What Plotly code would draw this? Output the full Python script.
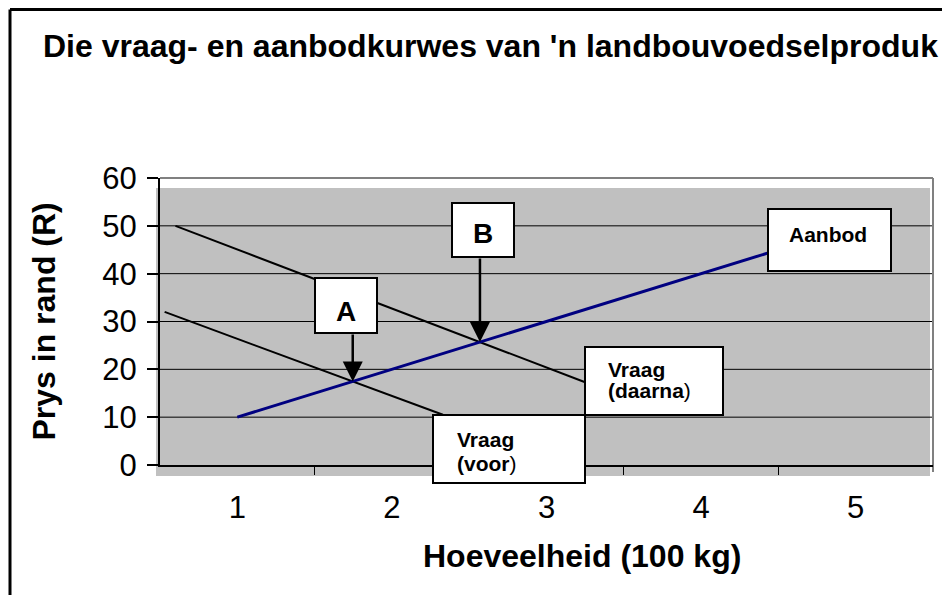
import plotly.graph_objects as go
import numpy as np

# ---------------- data ----------------
X_CATS = [1, 2, 3, 4, 5]
Y_TICKS = [0, 10, 20, 30, 40, 50, 60]

AANBOD_X = [1, 2, 3, 4, 5]
AANBOD_Y = [10, 20, 30, 40, 50]

VRAAG_VOOR_X = [0.53, 2.33]
VRAAG_VOOR_Y = [32, 10.5]

VRAAG_DAARNA_X = [0.6, 3.25]
VRAAG_DAARNA_Y = [50, 17.3]

TITLE = "Die vraag- en aanbodkurwes van 'n landbouvoedselproduk"
X_TITLE = "Hoeveelheid (100 kg)"
Y_TITLE = "Prys in rand (R)"

# ---------------- geometry ----------------
W, H = 942, 595
L, R_PX, T, B_PX = 160, 933, 178, 465
PW, PH = R_PX - L, B_PX - T
FONT = "Arial, Liberation Sans, sans-serif"


def px(x):
    return (x - L) / PW


def py(y):
    return (B_PX - y) / PH


def intersect(x1, y1, x2, y2):
    a1, b1 = np.polyfit(x1, y1, 1)
    a2, b2 = np.polyfit(x2, y2, 1)
    xi = (b2 - b1) / (a1 - a2)
    return xi, a1 * xi + b1


fig = go.Figure()
fig.add_trace(go.Scatter(x=VRAAG_DAARNA_X, y=VRAAG_DAARNA_Y, mode="lines",
                         line=dict(color="black", width=2), showlegend=False))
fig.add_trace(go.Scatter(x=VRAAG_VOOR_X, y=VRAAG_VOOR_Y, mode="lines",
                         line=dict(color="black", width=2), showlegend=False))
fig.add_trace(go.Scatter(x=AANBOD_X, y=AANBOD_Y, mode="lines",
                         line=dict(color="#000080", width=3), showlegend=False))

shapes = []
# grey plot fill (slightly offset like the original)
shapes.append(dict(type="rect", xref="paper", yref="paper", x0=px(156), x1=px(930),
                   y0=py(476), y1=py(188), fillcolor="#C0C0C0", line=dict(width=0),
                   layer="below"))
# gridlines
for v in Y_TICKS[1:-1]:
    shapes.append(dict(type="line", xref="paper", yref="y", x0=0, x1=1, y0=v, y1=v,
                       line=dict(color="black", width=1), layer="below"))
# grey frame top & right
shapes.append(dict(type="line", xref="paper", yref="paper", x0=0, x1=1, y0=1, y1=1,
                   line=dict(color="#808080", width=2), layer="below"))
shapes.append(dict(type="line", xref="paper", yref="paper", x0=1, x1=1, y0=py(472), y1=1,
                   line=dict(color="#808080", width=2), layer="below"))
# outer chart border (left + top)
shapes.append(dict(type="line", xref="paper", yref="paper", x0=px(10), x1=px(10),
                   y0=py(600), y1=py(9.5), line=dict(color="black", width=3)))
shapes.append(dict(type="line", xref="paper", yref="paper", x0=px(10), x1=px(945),
                   y0=py(9.5), y1=py(9.5), line=dict(color="black", width=3)))

# label boxes (pixel boxes)
BOXES = {
    "A": (315, 278, 377, 333),
    "B": (452, 203, 514, 257),
    "Aanbod": (768, 209, 891, 271),
    "Daarna": (585, 347, 723, 415),
    "Voor": (433, 415, 585, 483),
}
for k, (x0, y0, x1, y1) in BOXES.items():
    shapes.append(dict(type="rect", xref="paper", yref="paper", x0=px(x0), x1=px(x1),
                       y0=py(y1), y1=py(y0), fillcolor="white",
                       line=dict(color="black", width=2), layer="above"))

ann = []
ann.append(dict(text="<b>" + TITLE + "</b>", xref="paper", yref="paper", x=px(41), y=py(46),
                xanchor="left", yanchor="middle", showarrow=False,
                font=dict(family=FONT, size=32, color="black")))
ann.append(dict(text="<b>" + X_TITLE + "</b>", xref="paper", yref="paper", x=px(582), y=py(556),
                xanchor="center", yanchor="middle", showarrow=False,
                font=dict(family=FONT, size=32, color="black")))
ann.append(dict(text="<b>" + Y_TITLE + "</b>", xref="paper", yref="paper", x=px(43), y=0.5,
                xanchor="center", yanchor="middle", textangle=-90, showarrow=False,
                font=dict(family=FONT, size=32, color="black")))

# box texts
def txt(t, x, y, size, anchor="center"):
    ann.append(dict(text=t, xref="paper", yref="paper", x=px(x), y=py(y), xanchor=anchor,
                    yanchor="middle", showarrow=False,
                    font=dict(family=FONT, size=size, color="black")))

txt("<b>A</b>", 346, 311, 28)
txt("<b>B</b>", 483, 233, 28)
txt("<b>Aanbod</b>", 828, 234, 21)
txt("<b>Vraag</b>", 606, 369, 21, "left")
txt("<b>(daarna</b>)", 606, 390, 21, "left")
txt("<b>Vraag</b>", 455, 439, 21, "left")
txt("<b>(voor</b>)", 455, 463, 21, "left")

# arrows to intersections
def ypx(v):
    return B_PX - v * PH / (Y_TICKS[-1] - Y_TICKS[0])

xa, ya = intersect(VRAAG_VOOR_X, VRAAG_VOOR_Y, AANBOD_X, AANBOD_Y)
xb, yb = intersect(VRAAG_DAARNA_X, VRAAG_DAARNA_Y, AANBOD_X, AANBOD_Y)
for (xi, yi, key) in [(xa, ya, "A"), (xb, yb, "B")]:
    tail = BOXES[key][3]
    ann.append(dict(text="", x=xi, y=yi, xref="x", yref="y", ax=0, ay=-(ypx(yi) - tail),
                    showarrow=True, arrowhead=2, arrowsize=1.6, arrowwidth=2.5,
                    arrowcolor="black", standoff=0))

fig.update_layout(
    width=W, height=H,
    margin=dict(l=L, r=W - R_PX, t=T, b=H - B_PX, pad=0),
    paper_bgcolor="white", plot_bgcolor="rgba(0,0,0,0)",
    shapes=shapes, annotations=ann, showlegend=False,
    font=dict(family=FONT, color="black"),
)
fig.update_xaxes(range=[X_CATS[0] - 0.5, X_CATS[-1] + 0.5], tickmode="array",
                 tickvals=X_CATS, ticktext=[str(c) for c in X_CATS], ticks="",
                 showgrid=False, zeroline=False, showline=True, linecolor="black",
                 linewidth=2, tickfont=dict(size=31, family=FONT, color="black"),
                 ticklabelstandoff=14,
                 minor=dict(tickmode="array", tickvals=[c + 0.5 for c in X_CATS[:-1]],
                            ticks="outside", ticklen=8, tickwidth=1, tickcolor="black",
                            showgrid=False))
fig.update_yaxes(range=[Y_TICKS[0], Y_TICKS[-1]], tickmode="array", tickvals=Y_TICKS,
                 ticks="outside", ticklen=11, tickwidth=1.5, tickcolor="black",
                 showgrid=False, zeroline=False, showline=True, linecolor="black",
                 linewidth=2, tickfont=dict(size=31, family=FONT, color="black"),
                 ticklabelstandoff=4)

fig.write_html("out.html", config={"displayModeBar": False},
               post_script="document.body.style.margin='0px';document.body.style.overflow='hidden';")
